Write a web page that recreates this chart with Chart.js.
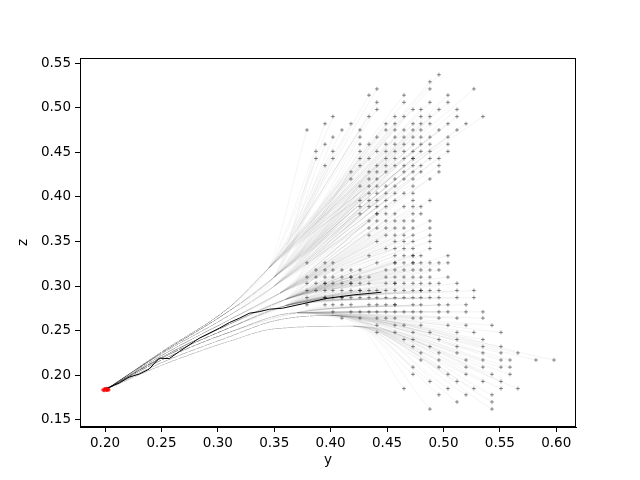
<!DOCTYPE html>
<html>
<head>
<meta charset="utf-8">
<script src="https://cdn.jsdelivr.net/npm/chart.js@4.4.1/dist/chart.umd.min.js"></script>
<style>
  html, body { margin: 0; padding: 0; background: #fff; }
  #wrap { width: 640px; height: 480px; }
</style>
</head>
<body>
<div id="wrap"><canvas id="flowChart" width="640" height="480"></canvas></div>
<script>
// axis ticks
const yTicks = [0.20, 0.25, 0.30, 0.35, 0.40, 0.45, 0.50, 0.55, 0.60];
const zTicks = [0.15, 0.20, 0.25, 0.30, 0.35, 0.40, 0.45, 0.50, 0.55];

// red start samples
const startY = [0.1980, 0.1992, 0.2004, 0.2016, 0.2026, 0.1996, 0.2012, 0.2034, 0.2020];
const startZ = [0.1836, 0.1826, 0.1840, 0.1829, 0.1843, 0.1849, 0.1853, 0.1835, 0.1834];

// black reference trajectory
const meanY = [0.1985, 0.2036, 0.2124, 0.2213, 0.2302, 0.2391, 0.2480, 0.2569, 0.2658, 0.2747,
               0.2836, 0.2924, 0.3013, 0.3102, 0.3191, 0.3280, 0.3369, 0.3458, 0.3573, 0.3750,
               0.3960, 0.4200, 0.4450];
const meanZ = [0.1842, 0.1866, 0.1911, 0.1978, 0.2012, 0.2068, 0.2191, 0.2186, 0.2265, 0.2340,
               0.2415, 0.2471, 0.2527, 0.2590, 0.2639, 0.2695, 0.2713, 0.2740, 0.2751, 0.2800,
               0.2860, 0.2900, 0.2930];

// target samples, one row per z level: [z, [y, ...]]
const targetRows = [
  [0.537, [0.496]],
  [0.529, [0.488]],
  [0.521, [0.441, 0.488, 0.527]],
  [0.514, [0.434, 0.465, 0.504]],
  [0.506, [0.441, 0.465, 0.488, 0.504]],
  [0.498, [0.441, 0.473, 0.480, 0.496, 0.512]],
  [0.490, [0.402, 0.434, 0.457, 0.465, 0.480, 0.488, 0.512, 0.535]],
  [0.482, [0.395, 0.418, 0.449, 0.457, 0.473, 0.480, 0.488, 0.504, 0.520]],
  [0.475, [0.379, 0.410, 0.426, 0.449, 0.457, 0.465, 0.473, 0.480, 0.496, 0.512]],
  [0.467, [0.402, 0.426, 0.441, 0.457, 0.465, 0.473, 0.480, 0.488, 0.504]],
  [0.459, [0.395, 0.426, 0.434, 0.449, 0.457, 0.465, 0.473, 0.480, 0.488, 0.504]],
  [0.451, [0.387, 0.402, 0.426, 0.441, 0.449, 0.457, 0.465, 0.473, 0.480, 0.488, 0.504]],
  [0.443, [0.387, 0.402, 0.426, 0.434, 0.449, 0.457, 0.465, 0.473, 0.488, 0.496]],
  [0.435, [0.395, 0.426, 0.441, 0.449, 0.457, 0.465, 0.473, 0.480, 0.496]],
  [0.428, [0.418, 0.434, 0.441, 0.449, 0.465, 0.473, 0.480, 0.496]],
  [0.420, [0.418, 0.434, 0.441, 0.457, 0.465, 0.473, 0.488]],
  [0.412, [0.426, 0.434, 0.441, 0.449, 0.457, 0.473]],
  [0.404, [0.434, 0.441, 0.449, 0.457, 0.465, 0.473]],
  [0.396, [0.426, 0.434, 0.441, 0.449, 0.457, 0.473, 0.488]],
  [0.389, [0.426, 0.434, 0.441, 0.449, 0.465, 0.473, 0.480]],
  [0.381, [0.426, 0.441, 0.449, 0.457, 0.473, 0.480]],
  [0.373, [0.434, 0.441, 0.449, 0.457, 0.465, 0.473, 0.488]],
  [0.365, [0.434, 0.441, 0.449, 0.457, 0.465, 0.473, 0.488]],
  [0.357, [0.434, 0.449, 0.457, 0.465, 0.473, 0.488]],
  [0.350, [0.441, 0.457, 0.465, 0.473, 0.488]],
  [0.342, [0.449, 0.457, 0.465, 0.473, 0.488]],
  [0.334, [0.434, 0.457, 0.465, 0.473, 0.480, 0.504]],
  [0.326, [0.379, 0.395, 0.402, 0.441, 0.457, 0.465, 0.473, 0.480, 0.488, 0.496, 0.504]],
  [0.318, [0.387, 0.395, 0.402, 0.410, 0.418, 0.426, 0.449, 0.457, 0.465, 0.473, 0.480, 0.488, 0.496]],
  [0.310, [0.379, 0.387, 0.395, 0.402, 0.410, 0.418, 0.426, 0.434, 0.449, 0.457, 0.465, 0.473, 0.480, 0.488, 0.504]],
  [0.303, [0.379, 0.387, 0.395, 0.402, 0.410, 0.418, 0.426, 0.434, 0.449, 0.457, 0.465, 0.473, 0.480, 0.488, 0.496, 0.512]],
  [0.295, [0.379, 0.387, 0.395, 0.402, 0.410, 0.418, 0.426, 0.434, 0.441, 0.449, 0.457, 0.465, 0.473, 0.480, 0.488, 0.496, 0.512, 0.527]],
  [0.287, [0.379, 0.395, 0.402, 0.410, 0.418, 0.426, 0.434, 0.441, 0.449, 0.457, 0.465, 0.473, 0.480, 0.488, 0.496, 0.512, 0.527]],
  [0.279, [0.379, 0.395, 0.402, 0.410, 0.418, 0.434, 0.441, 0.449, 0.457, 0.473, 0.480, 0.496, 0.504, 0.520]],
  [0.271, [0.402, 0.418, 0.426, 0.434, 0.441, 0.449, 0.457, 0.465, 0.473, 0.480, 0.496, 0.504, 0.520, 0.535]],
  [0.264, [0.410, 0.426, 0.441, 0.449, 0.457, 0.473, 0.480, 0.496, 0.512, 0.535]],
  [0.256, [0.441, 0.457, 0.465, 0.480, 0.504, 0.520, 0.543]],
  [0.248, [0.441, 0.457, 0.473, 0.488, 0.512, 0.527, 0.551]],
  [0.240, [0.465, 0.473, 0.496, 0.512, 0.535]],
  [0.232, [0.473, 0.488, 0.512, 0.535, 0.551]],
  [0.225, [0.480, 0.496, 0.512, 0.535, 0.551, 0.566]],
  [0.217, [0.480, 0.496, 0.520, 0.535, 0.551, 0.559, 0.582, 0.598]],
  [0.209, [0.473, 0.496, 0.520, 0.535, 0.551, 0.559]],
  [0.201, [0.473, 0.504, 0.520, 0.543, 0.559]],
  [0.193, [0.488, 0.512, 0.535, 0.551]],
  [0.185, [0.465, 0.504, 0.527, 0.551, 0.566]],
  [0.178, [0.496, 0.520, 0.543]],
  [0.170, [0.512, 0.543]],
  [0.162, [0.488, 0.543]]
];

// targets that appear twice (darker crosses): [y, z]
const doubledTargets = [
  [0.473, 0.443], [0.441, 0.381], [0.473, 0.334], [0.457, 0.326], [0.473, 0.326],
  [0.418, 0.310], [0.395, 0.303], [0.418, 0.303], [0.457, 0.303], [0.426, 0.295],
  [0.480, 0.295], [0.395, 0.287], [0.410, 0.287], [0.457, 0.279]
];

// grey trajectories follow one of these strands before fanning out to their target
const bandMinZ = [0.47, 0.43, 0.39, 0.35, 0.31, 0.28, 0.25, 0.21, 0.0];
const bandPathY = [
  [0.201, 0.25, 0.31, 0.345],
  [0.201, 0.25, 0.31, 0.35],
  [0.201, 0.25, 0.31, 0.35],
  [0.201, 0.25, 0.31, 0.355],
  [0.201, 0.25, 0.31, 0.36],
  [0.201, 0.25, 0.31, 0.36],
  [0.201, 0.25, 0.31, 0.37],
  [0.201, 0.25, 0.31, 0.35, 0.40],
  [0.201, 0.25, 0.31, 0.35, 0.42]
];
const bandPathZ = [
  [0.184, 0.226, 0.276, 0.320],
  [0.184, 0.225, 0.272, 0.310],
  [0.184, 0.224, 0.267, 0.300],
  [0.184, 0.222, 0.262, 0.292],
  [0.184, 0.220, 0.257, 0.285],
  [0.184, 0.219, 0.253, 0.278],
  [0.184, 0.217, 0.248, 0.270],
  [0.184, 0.214, 0.243, 0.261, 0.267],
  [0.184, 0.211, 0.238, 0.252, 0.255]
];

const FONT = "'DejaVu Sans', 'Liberation Sans', sans-serif";
const SHARED_COLOR = 'rgba(0,0,0,0.018)';
const canvasCtx = document.getElementById('flowChart').getContext('2d');

// fan part fades in from the strand so branch points do not pile up
function fanColor(seg) {
  const g = canvasCtx.createLinearGradient(seg.p0.x, seg.p0.y, seg.p1.x, seg.p1.y);
  g.addColorStop(0, 'rgba(0,0,0,0.018)');
  g.addColorStop(0.35, 'rgba(0,0,0,0.05)');
  g.addColorStop(1, 'rgba(0,0,0,0.06)');
  return g;
}

const targets = [];
targetRows.forEach(([z, ys]) => ys.forEach(y => targets.push({ x: y, y: z })));
doubledTargets.forEach(([y, z]) => targets.push({ x: y, y: z }));

const trajectoryDatasets = targets.map(t => {
  const b = bandMinZ.findIndex(m => t.y >= m);
  const pts = bandPathY[b].map((y, i) => ({ x: y, y: bandPathZ[b][i] }));
  pts.push({ x: t.x, y: t.y });
  const last = pts.length - 1;
  return {
    data: pts,
    showLine: true,
    borderColor: SHARED_COLOR,
    borderWidth: 0.8,
    pointRadius: 0,
    cubicInterpolationMode: 'monotone',
    segment: {
      borderColor: seg => (seg.p1DataIndex === last ? fanColor(seg) : SHARED_COLOR)
    },
    order: 3
  };
});

const framePlugin = {
  id: 'frame',
  afterDraw(chart) {
    const { ctx, chartArea: a } = chart;
    ctx.save();
    ctx.strokeStyle = '#000';
    ctx.lineWidth = 1;
    ctx.strokeRect(a.left + 0.5, a.top + 0.5, a.right - a.left - 1, a.bottom - a.top - 1);
    ctx.restore();
  }
};

new Chart(canvasCtx, {
  type: 'scatter',
  data: {
    datasets: [
      {
        data: startY.map((y, i) => ({ x: y, y: startZ[i] })),
        pointStyle: 'circle',
        pointRadius: 1.6,
        backgroundColor: 'rgba(255,0,0,0.8)',
        borderColor: 'rgba(255,0,0,0.8)',
        borderWidth: 0,
        order: 0
      },
      {
        data: meanY.map((y, i) => ({ x: y, y: meanZ[i] })),
        showLine: true,
        borderColor: '#000',
        borderWidth: 1,
        pointRadius: 0,
        tension: 0,
        order: 1
      },
      {
        data: targets,
        pointStyle: 'cross',
        pointRadius: 2,
        borderWidth: 1,
        borderColor: 'rgba(0,0,0,0.42)',
        backgroundColor: 'rgba(0,0,0,0.42)',
        order: 2
      },
      ...trajectoryDatasets
    ]
  },
  options: {
    responsive: false,
    animation: false,
    events: [],
    layout: { padding: { left: 0, right: 64, top: 58, bottom: 0 } },
    plugins: { legend: { display: false }, tooltip: { enabled: false } },
    scales: {
      x: {
        type: 'linear',
        min: 0.1778,
        max: 0.6175,
        afterFit(scale) { scale.height = 53; },
        afterBuildTicks(scale) { scale.ticks = yTicks.map(v => ({ value: v })); },
        grid: { drawOnChartArea: false, drawTicks: true, tickLength: 5, color: '#000' },
        border: { display: true, color: '#000', width: 1 },
        ticks: {
          autoSkip: false, maxRotation: 0, padding: 3, color: '#000',
          font: { family: FONT, size: 13.5 },
          callback: v => v.toFixed(2)
        },
        title: {
          display: true, text: 'y', color: '#000',
          font: { family: FONT, size: 13.5 },
          padding: { top: 0, bottom: 11 }
        }
      },
      y: {
        type: 'linear',
        min: 0.1419,
        max: 0.5557,
        afterFit(scale) { scale.width = 80; },
        afterBuildTicks(scale) { scale.ticks = zTicks.map(v => ({ value: v })); },
        grid: { drawOnChartArea: false, drawTicks: true, tickLength: 5, color: '#000' },
        border: { display: true, color: '#000', width: 1 },
        ticks: {
          autoSkip: false, padding: 4, color: '#000',
          font: { family: FONT, size: 13.5 },
          callback: v => v.toFixed(2)
        },
        title: {
          display: true, text: 'z', color: '#000',
          font: { family: FONT, size: 13.5 },
          padding: { top: 15, bottom: 0 }
        }
      }
    }
  },
  plugins: [framePlugin]
});
</script>
</body>
</html>
